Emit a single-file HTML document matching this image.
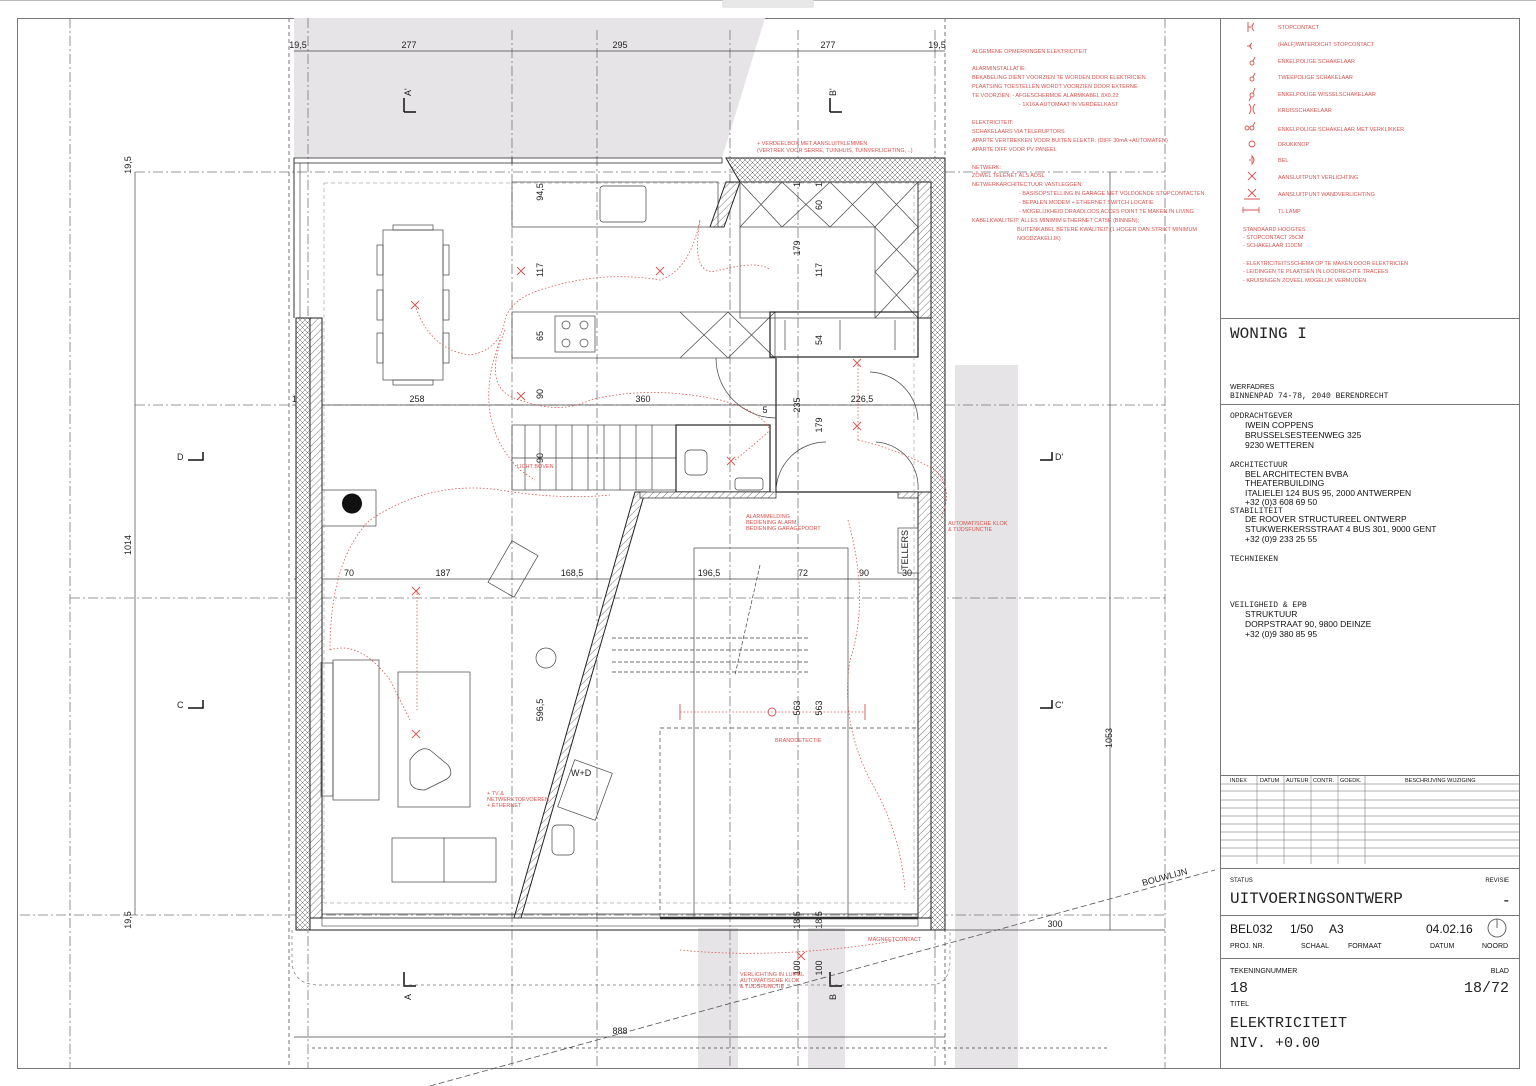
<!DOCTYPE html>
<html><head><meta charset="utf-8"><style>
html,body{margin:0;padding:0;background:#fff;}
svg{display:block;}
.d{font-family:"Liberation Sans",sans-serif;font-size:9px;fill:#222;}
.r{font-family:"Liberation Sans",sans-serif;font-size:5.5px;fill:#d9534f;}
.m{font-family:"Liberation Mono",monospace;fill:#222;}
.s{font-family:"Liberation Sans",sans-serif;fill:#111;}
</style></head><body>
<svg width="1536" height="1086" viewBox="0 0 1536 1086" xmlns="http://www.w3.org/2000/svg">
<defs>
<pattern id="h" width="5" height="5" patternUnits="userSpaceOnUse" patternTransform="rotate(45)">
<rect width="5" height="5" fill="#fff"/><line x1="0" y1="0" x2="0" y2="5" stroke="#555" stroke-width="0.8"/></pattern>
<pattern id="x" width="5" height="5" patternUnits="userSpaceOnUse">
<rect width="5" height="5" fill="#fff"/><path d="M0 0L5 5M5 0L0 5" stroke="#666" stroke-width="0.5"/></pattern>
</defs>
<line x1="0" y1="0.5" x2="1536" y2="0.5" stroke="#bbb"/>
<rect x="722" y="0" width="92" height="8" fill="#e8e8e8" rx="2"/>
<!-- frame -->
<rect x="17.5" y="18.5" width="1502" height="1050" fill="none" stroke="#777"/>
<!-- gray areas -->
<path d="M294 18 L765 18 L722 158 L294 158 Z" fill="#e6e4e6"/>
<rect x="955" y="365" width="63" height="703" fill="#e6e4e6"/>
<rect x="698" y="928" width="40" height="140" fill="#e6e4e6"/>
<rect x="808" y="928" width="37" height="140" fill="#e6e4e6"/>
<!-- axis dash-dot lines -->
<g stroke="#777" stroke-width="0.8" stroke-dasharray="10 3 2 3" fill="none">
<line x1="70" y1="18" x2="70" y2="1068"/>
<line x1="1165" y1="18" x2="1165" y2="1068"/>
<line x1="135" y1="172" x2="1165" y2="172"/>
<line x1="135" y1="405" x2="1165" y2="405"/>
<line x1="70" y1="598" x2="1165" y2="598"/>
<line x1="20" y1="915" x2="1165" y2="915"/>
<line x1="308" y1="18" x2="308" y2="1068"/>
<line x1="512" y1="30" x2="512" y2="1068"/>
<line x1="597" y1="30" x2="597" y2="1068"/>
<line x1="730" y1="30" x2="730" y2="1068"/>
<line x1="798" y1="30" x2="798" y2="1068"/>
<line x1="935" y1="30" x2="935" y2="1068"/>
</g>
<line x1="289" y1="18" x2="289" y2="1068" stroke="#777" stroke-dasharray="4 3"/>
<line x1="945" y1="18" x2="945" y2="1068" stroke="#777" stroke-dasharray="4 3"/>
<!-- dimension lines -->
<g stroke="#444" stroke-width="0.7">
<line x1="294" y1="51" x2="945" y2="51"/>
<line x1="294" y1="405" x2="945" y2="405"/>
<line x1="294" y1="579" x2="945" y2="579"/>
<line x1="294" y1="1037" x2="945" y2="1037"/>
<line x1="945" y1="930" x2="1165" y2="930"/>
<line x1="135" y1="172" x2="135" y2="915"/>
<line x1="1110" y1="172" x2="1110" y2="930"/>
<line x1="312" y1="1048" x2="1110" y2="1048" stroke-dasharray="3 3"/>
</g>
<g class="d" text-anchor="middle">
<text x="298" y="48">19,5</text><text x="409" y="48">277</text><text x="620" y="48">295</text><text x="828" y="48">277</text><text x="937" y="48">19,5</text>
<text x="307" y="402">19,5 19</text><text x="417" y="402">258</text><text x="643" y="402">360</text><text x="765" y="413">5</text><text x="862" y="402">226,5</text>
<text x="307" y="576">39,5</text><text x="349" y="576">70</text><text x="443" y="576">187</text><text x="572" y="576">168,5</text><text x="709" y="576">196,5</text><text x="803" y="576">72</text><text x="864" y="576">90</text><text x="907" y="576">30</text><text x="932" y="576">34,5</text>
<text x="620" y="1034">888</text><text x="1055" y="927">300</text>
</g>
<g class="d" text-anchor="middle">
<text transform="translate(131,165) rotate(-90)">19,5</text>
<text transform="translate(131,545) rotate(-90)">1014</text>
<text transform="translate(131,920) rotate(-90)">19,5</text>
<text transform="translate(1112,738) rotate(-90)">1053</text>
<text transform="translate(543,192) rotate(-90)">94,5</text>
<text transform="translate(543,270) rotate(-90)">117</text>
<text transform="translate(543,336) rotate(-90)">65</text>
<text transform="translate(543,394) rotate(-90)">90</text>
<text transform="translate(543,458) rotate(-90)">90</text>
<text transform="translate(543,710) rotate(-90)">596,5</text>
<text transform="translate(800,248) rotate(-90)">179</text>
<text transform="translate(822,270) rotate(-90)">117</text>
<text transform="translate(822,205) rotate(-90)">60</text>
<text transform="translate(822,340) rotate(-90)">54</text>
<text transform="translate(800,405) rotate(-90)">235</text>
<text transform="translate(822,425) rotate(-90)">179</text>
<text transform="translate(800,708) rotate(-90)">563</text>
<text transform="translate(822,708) rotate(-90)">563</text>
<text transform="translate(800,968) rotate(-90)">100</text>
<text transform="translate(822,968) rotate(-90)">100</text>
<text transform="translate(800,920) rotate(-90)">18,5</text>
<text transform="translate(822,920) rotate(-90)">18,5</text>
<text transform="translate(800,172) rotate(-90)">14 19,5</text>
<text transform="translate(822,172) rotate(-90)">14 19,5</text>
</g>
<!-- section markers -->
<g class="d" font-size="10">
<path d="M404 112 V98 M404 112 H416" stroke="#111" stroke-width="1.5" fill="none"/><text transform="translate(411,96) rotate(-90)">A'</text>
<path d="M830 112 V98 M830 112 H842" stroke="#111" stroke-width="1.5" fill="none"/><text transform="translate(836,96) rotate(-90)">B'</text>
<path d="M188 460 H203 V452" stroke="#111" stroke-width="1.5" fill="none"/><text x="177" y="460">D</text>
<path d="M1040 460 H1052 V452" stroke="#111" stroke-width="1.5" fill="none"/><text x="1055" y="460">D'</text>
<path d="M188 708 H203 V700" stroke="#111" stroke-width="1.5" fill="none"/><text x="177" y="708">C</text>
<path d="M1040 708 H1052 V700" stroke="#111" stroke-width="1.5" fill="none"/><text x="1055" y="708">C'</text>
<path d="M404 972 V986 H416" stroke="#111" stroke-width="1.5" fill="none"/><text transform="translate(411,1000) rotate(-90)">A</text>
<path d="M830 972 V986 H842" stroke="#111" stroke-width="1.5" fill="none"/><text transform="translate(836,1000) rotate(-90)">B</text>
</g>
<!-- bouwlijn -->
<line x1="430" y1="1086" x2="1215" y2="870" stroke="#555" stroke-width="0.8" stroke-dasharray="6 3"/>
<text class="d" font-size="11" transform="translate(1143,886) rotate(-15)">BOUWLIJN</text>
<path d="M292 930 V960 Q292 985 320 985 H930 Q950 985 950 960 V930" fill="none" stroke="#777" stroke-dasharray="3 3" stroke-width="0.7"/>
<!-- building -->
<rect x="294" y="158" width="218" height="5" fill="none" stroke="#333" stroke-width="0.8"/>
<line x1="294" y1="158" x2="294" y2="318" stroke="#333"/>
<line x1="300" y1="163" x2="300" y2="318" stroke="#333" stroke-width="0.6"/>
<rect x="512" y="158" width="210" height="5" fill="none" stroke="#333" stroke-width="0.8"/>
<rect x="296" y="318" width="14" height="612" fill="url(#x)" stroke="#222"/>
<rect x="310" y="318" width="12" height="600" fill="url(#h)" stroke="#222"/>
<path d="M726 158 H945 V930 H931 V182 H740 Z" fill="url(#x)" stroke="#222"/>
<rect x="918" y="182" width="13" height="136" fill="url(#h)" stroke="#222"/>
<rect x="918" y="492" width="13" height="426" fill="url(#h)" stroke="#222"/>
<path d="M726 182 L740 182 L724 227 L710 227 Z" fill="url(#h)" stroke="#222"/>
<path d="M635 492 L645 492 L521 918 L514 918 Z" fill="url(#h)" stroke="#222"/>
<rect x="322" y="914" width="596" height="4" fill="none" stroke="#333" stroke-width="0.7"/>
<line x1="660" y1="918" x2="918" y2="918" stroke="#222" stroke-width="2.5"/>
<line x1="296" y1="930" x2="945" y2="930" stroke="#222" stroke-width="1"/>
<rect x="322" y="918" width="596" height="8" fill="none" stroke="#444" stroke-width="0.6"/>
<!-- kitchen -->
<g fill="none" stroke="#444" stroke-width="0.7">
<rect x="512" y="182" width="206" height="45"/>
<rect x="600" y="186" width="46" height="36" rx="3"/>
<rect x="740" y="182" width="178" height="136"/>
<path d="M740 182 L782 227 M782 182 L740 227 M782 182 L830 227 M830 182 L782 227 M830 182 L875 227 M875 182 L830 227 M875 182 L918 227 M918 182 L875 227 M875 227 L918 272 M918 227 L875 272 M875 272 L918 318 M918 272 L875 318"/>
<line x1="740" y1="227" x2="875" y2="227"/><line x1="875" y1="227" x2="875" y2="318"/>
<rect x="512" y="312" width="263" height="46"/>
<path d="M680 312 L728 358 M728 312 L680 358 M728 312 L775 358 M775 312 L728 358"/>
<rect x="555" y="316" width="40" height="36"/>
<circle cx="566" cy="325" r="4"/><circle cx="584" cy="325" r="4"/><circle cx="566" cy="343" r="4"/><circle cx="584" cy="343" r="4"/>
<rect x="770" y="312" width="148" height="45" stroke="#222" stroke-width="1.2"/>
<path d="M785 320 V350 M840 320 V350 M895 320 V350"/>
<!-- stair -->
<rect x="512" y="425" width="164" height="65"/>
<path d="M525 425 V490 M540 425 V490 M556 425 V490 M572 425 V490 M588 425 V490 M604 425 V490 M620 425 V490 M636 425 V490 M652 425 V490 M512 458 H676"/>
<rect x="676" y="425" width="94" height="67" stroke="#222" stroke-width="1.2"/>
<rect x="685" y="450" width="22" height="25" rx="5"/>
<rect x="735" y="478" width="28" height="12" rx="3"/>
<path d="M776 358 V492 M776 492 H918" stroke="#222" stroke-width="1.2"/>
<rect x="640" y="492" width="136" height="6" fill="url(#h)" stroke="#222"/>
<rect x="898" y="492" width="20" height="6" fill="url(#h)" stroke="#222"/>
<path d="M716 358 A60 60 0 0 0 776 418"/>
<path d="M870 372 A50 50 0 0 1 918 420"/>
<path d="M776 492 A50 50 0 0 1 826 442 M876 442 A45 45 0 0 1 918 490"/>
<!-- dining -->
<rect x="383" y="230" width="60" height="150"/>
<rect x="393" y="225" width="40" height="5"/><rect x="393" y="380" width="40" height="5"/>
<rect x="377" y="245" width="6" height="30"/><rect x="377" y="290" width="6" height="30"/><rect x="377" y="333" width="6" height="30"/>
<rect x="443" y="245" width="6" height="30"/><rect x="443" y="290" width="6" height="30"/><rect x="443" y="333" width="6" height="30"/>
<!-- living -->
<rect x="322" y="490" width="54" height="36"/>
<rect x="333" y="660" width="46" height="140"/><rect x="321" y="663" width="12" height="133"/>
<rect x="398" y="672" width="72" height="135"/>
<path d="M410 760 Q420 745 430 750 L448 765 Q455 775 445 780 L425 790 Q410 790 410 780 Z"/>
<rect x="392" y="838" width="104" height="44"/><path d="M444 838 V882"/>
<rect x="498" y="545" width="30" height="48" transform="rotate(30 513 569)"/>
<circle cx="546" cy="658" r="10"/>
<rect x="565" y="765" width="40" height="50" transform="rotate(20 585 790)"/>
<rect x="552" y="825" width="22" height="30" rx="5"/>
<!-- garage -->
<rect x="694" y="548" width="154" height="370"/>
<rect x="660" y="728" width="258" height="190" stroke-dasharray="4 3"/>
<path d="M612 638 H810 M612 650 H810 M612 662 H810 M612 672 H810" stroke-dasharray="4 2"/>
<path d="M760 565 L735 675" stroke-dasharray="4 2"/>
<rect x="898" y="528" width="20" height="45"/>
<rect x="324" y="183" width="590" height="720" stroke-dasharray="4 3" stroke="#888" stroke-width="0.5"/>
</g>
<text class="d" font-size="7" transform="translate(908,570) rotate(-90)">TELLERS</text>
<text class="d" x="571" y="776">W+D</text>
<path d="M342 503 A10 10 0 1 1 342 504 Z" fill="#111"/>
<!-- red electrical -->
<g fill="none" stroke="#d9534f" stroke-width="0.8" stroke-dasharray="1.5 2">
<path d="M415 305 Q430 350 470 355 Q500 350 505 320 Q510 300 540 290 Q600 270 660 280 Q690 270 700 220"/>
<path d="M700 220 Q690 280 720 270 Q760 260 770 270"/>
<path d="M505 330 Q480 390 520 400 Q560 415 590 400 Q650 385 720 400 Q760 410 770 430"/>
<path d="M500 340 Q470 420 520 470 L535 480"/>
<path d="M330 650 Q330 560 370 520 Q430 480 500 490 Q560 500 610 495"/>
<path d="M330 650 Q360 640 390 680 Q400 700 410 720"/>
<path d="M417 590 V710"/>
<path d="M680 712 H865"/>
<path d="M858 365 V440 M858 440 Q900 450 935 470 Q955 490 940 520"/>
<path d="M848 520 Q870 600 850 660 Q840 720 870 780 Q900 830 905 890"/>
<path d="M735 460 Q760 440 770 430"/>
<path d="M680 950 Q780 960 900 940"/>
</g>
<g stroke="#d9534f" stroke-width="0.9" fill="none">
<path d="M411 301 l8 8 m0 -8 l-8 8 M412 587 l8 8 m0 -8 l-8 8 M412 730 l8 8 m0 -8 l-8 8 M517 267 l8 8 m0 -8 l-8 8 M517 392 l8 8 m0 -8 l-8 8 M656 267 l8 8 m0 -8 l-8 8 M853 359 l8 8 m0 -8 l-8 8 M853 422 l8 8 m0 -8 l-8 8 M727 457 l8 8 m0 -8 l-8 8 M797 952 l8 8 m0 -8 l-8 8"/>
<path d="M680 704 v16 M865 704 v16"/><circle cx="772" cy="712" r="4"/>
</g>
<g class="r">
<text x="757" y="145">+ VERDEELBOX MET AANSLUITKLEMMEN</text>
<text x="757" y="152">(VERTREK VOOR SERRE, TUINHUIS, TUINVERLICHTING, ..)</text>
<text x="746" y="518">ALARMMELDING</text><text x="746" y="524">BEDIENING ALARM</text><text x="746" y="530">BEDIENING GARAGEPOORT</text>
<text x="948" y="525">AUTOMATISCHE KLOK</text><text x="948" y="531">&amp; TIJDSFUNCTIE</text>
<text x="775" y="742">BRANDDETECTIE</text>
<text x="487" y="795">+ TV &amp;</text><text x="487" y="801">NETWERKTOEVOEREN</text><text x="487" y="807">+ ETHERNET</text>
<text x="740" y="976">VERLICHTING IN LUIFEL</text><text x="740" y="982">AUTOMATISCHE KLOK</text><text x="740" y="988">&amp; TIJDSFUNCTIE</text>
<text x="868" y="941">MAGNEETCONTACT</text>
<text x="517" y="468">LICHT BOVEN</text>
</g>
<!-- notes -->
<g class="r" font-size="5.5">
<text x="972" y="53">ALGEMENE OPMERKINGEN ELEKTRICITEIT</text>
<text x="972" y="70">ALARMINSTALLATIE:</text>
<text x="972" y="79">BEKABELING DIENT VOORZIEN TE WORDEN DOOR ELEKTRICIEN</text>
<text x="972" y="88">PLAATSING TOESTELLEN WORDT VOORZIEN DOOR EXTERNE</text>
<text x="972" y="97">TE VOORZIEN:    - AFGESCHERMDE ALARMKABEL 8X0.22</text>
<text x="1019" y="106">- 1X16A AUTOMAAT IN VERDEELKAST</text>
<text x="972" y="124">ELEKTRICITEIT:</text>
<text x="972" y="133">SCHAKELAARS VIA TELERUPTORS</text>
<text x="972" y="142">APARTE VERTREKKEN VOOR BUITEN ELEKTR. (DIFF 30mA +AUTOMATEN)</text>
<text x="972" y="151">APARTE DIFF VOOR PV PANEEL</text>
<text x="972" y="169">NETWERK:</text>
<text x="972" y="177">ZOWEL TELENET ALS ADSL</text>
<text x="972" y="186">NETWERKARCHITECTUUR VASTLEGGEN:</text>
<text x="1019" y="195">- BASISOPSTELLING IN GARAGE MET VOLDOENDE STOPCONTACTEN</text>
<text x="1019" y="204">- BEPALEN MODEM + ETHERNET SWITCH LOCATIE</text>
<text x="1019" y="213">- MOGELIJKHEID DRAADLOOS ACCES POINT TE MAKEN IN LIVING</text>
<text x="972" y="222">KABELKWALITEIT: ALLES MINIMIM ETHERNET CAT5E (BINNEN);</text>
<text x="1017" y="231">BUITENKABEL BETERE KWALITEIT (1 HOGER DAN STRIKT MINIMUM</text>
<text x="1017" y="240">NOODZAKELIJK)</text>
</g>
<!-- title block -->
<g stroke="#777" fill="none" stroke-width="1">
<rect x="1220.5" y="18.5" width="299" height="1050"/>
<line x1="1220" y1="318.5" x2="1519" y2="318.5"/>
<line x1="1220" y1="404.5" x2="1519" y2="404.5"/>
<line x1="1220" y1="775.5" x2="1519" y2="775.5"/>
<line x1="1220" y1="868.5" x2="1519" y2="868.5"/>
<line x1="1220" y1="915.5" x2="1519" y2="915.5"/>
<line x1="1220" y1="958.5" x2="1519" y2="958.5"/>
</g>
<g stroke="#666" stroke-width="0.5">
<line x1="1220" y1="784" x2="1519" y2="784"/><line x1="1220" y1="791" x2="1519" y2="791"/>
<line x1="1220" y1="800" x2="1519" y2="800"/><line x1="1220" y1="808" x2="1519" y2="808"/>
<line x1="1220" y1="816" x2="1519" y2="816"/><line x1="1220" y1="824" x2="1519" y2="824"/>
<line x1="1220" y1="832" x2="1519" y2="832"/><line x1="1220" y1="840" x2="1519" y2="840"/>
<line x1="1220" y1="848" x2="1519" y2="848"/><line x1="1220" y1="856" x2="1519" y2="856"/>
<line x1="1257" y1="775" x2="1257" y2="864"/><line x1="1284" y1="775" x2="1284" y2="864"/>
<line x1="1311" y1="775" x2="1311" y2="864"/><line x1="1338" y1="775" x2="1338" y2="864"/>
<line x1="1365" y1="775" x2="1365" y2="864"/>
</g>
<g class="s" font-size="5.5">
<text x="1230" y="782">INDEX</text><text x="1260" y="782">DATUM</text><text x="1286" y="782">AUTEUR</text><text x="1313" y="782">CONTR.</text><text x="1340" y="782">GOEDK.</text><text x="1405" y="782">BESCHRIJVING WIJZIGING</text>
</g>
<!-- legend -->
<g class="r">
<text x="1278" y="29">STOPCONTACT</text>
<text x="1278" y="46">(HALF)WATERDICHT STOPCONTACT</text>
<text x="1278" y="63">ENKELPOLIGE SCHAKELAAR</text>
<text x="1278" y="79">TWEEPOLIGE SCHAKELAAR</text>
<text x="1278" y="96">ENKELPOLIGE WISSELSCHAKELAAR</text>
<text x="1278" y="112">KRUISSCHAKELAAR</text>
<text x="1278" y="131">ENKELPOLIGE SCHAKELAAR MET VERKLIKKER</text>
<text x="1278" y="146">DRUKKNOP</text>
<text x="1278" y="162">BEL</text>
<text x="1278" y="179">AANSLUITPUNT VERLICHTING</text>
<text x="1278" y="196">AANSLUITPUNT WANDVERLICHTING</text>
<text x="1278" y="213">TL LAMP</text>
<text x="1243" y="231">STANDAARD HOOGTES</text>
<text x="1243" y="239">- STOPCONTACT    25CM</text>
<text x="1243" y="247">- SCHAKELAAR    110CM</text>
<text x="1243" y="265">- ELEKTRICITEITSSCHEMA OP TE MAKEN DOOR ELEKTRICIEN</text>
<text x="1243" y="273">- LEIDINGEN TE PLAATSEN IN LOODRECHTE TRACEES</text>
<text x="1243" y="282">- KRUISINGEN ZOVEEL MOGELIJK VERMIJDEN</text>
</g>
<g stroke="#d9534f" fill="none" stroke-width="0.9">
<path d="M1248 22 v10 M1248 27 h3 M1254 23 q-4 4 0 8"/>
<path d="M1252 43 q-4 3 0 6 M1247 46 h4"/>
<circle cx="1252" cy="63" r="2"/><path d="M1253 61 l2 -4"/>
<circle cx="1252" cy="79" r="2"/><path d="M1253 77 l2 -4"/>
<circle cx="1252" cy="95" r="2"/><path d="M1253 93 l2 -5 M1251 97 l-2 4"/>
<path d="M1249 104 q4 5 0 10 M1255 104 q-4 5 0 10"/>
<circle cx="1247" cy="128" r="2"/><circle cx="1252" cy="128" r="2"/><path d="M1253 126 l2 -4"/>
<circle cx="1252" cy="144" r="3"/>
<path d="M1249 160 h2 M1252 156 q4 4 0 8 z"/>
<path d="M1248 172 l8 8 m0 -8 l-8 8 M1248 189 l8 8 m0 -8 l-8 8 M1244 199 h16 M1243 210 h16 M1243 207 v6 M1259 207 v6"/>
</g>
<g class="m">
<text x="1230" y="338" font-size="16">WONING I</text>
<text x="1230" y="398" font-size="8">BINNENPAD 74-78, 2040 BERENDRECHT</text>
<text x="1230" y="418" font-size="8">OPDRACHTGEVER</text>
<text x="1230" y="467" font-size="8">ARCHITECTUUR</text>
<text x="1230" y="513" font-size="8">STABILITEIT</text>
<text x="1230" y="561" font-size="8">TECHNIEKEN</text>
<text x="1230" y="607" font-size="8">VEILIGHEID &amp; EPB</text>
<text x="1230" y="903" font-size="16">UITVOERINGSONTWERP</text>
<text x="1230" y="992" font-size="15">18</text>
<text x="1509" y="992" font-size="15" text-anchor="end">18/72</text>
<text x="1230" y="1027" font-size="15">ELEKTRICITEIT</text>
<text x="1230" y="1047" font-size="15">NIV. +0.00</text>
</g>
<g class="s" font-size="8.5">
<text x="1230" y="389" font-size="7">WERFADRES</text>
<text x="1245" y="428">IWEIN COPPENS</text><text x="1245" y="438">BRUSSELSESTEENWEG 325</text><text x="1245" y="448">9230 WETTEREN</text>
<text x="1245" y="477">BEL ARCHITECTEN BVBA</text><text x="1245" y="486">THEATERBUILDING</text><text x="1245" y="496">ITALIELEI 124 BUS 95, 2000 ANTWERPEN</text><text x="1245" y="505">+32 (0)3 608 69 50</text>
<text x="1245" y="522">DE ROOVER STRUCTUREEL ONTWERP</text><text x="1245" y="532">STUKWERKERSSTRAAT 4 BUS 301, 9000 GENT</text><text x="1245" y="542">+32 (0)9 233 25 55</text>
<text x="1245" y="617">STRUKTUUR</text><text x="1245" y="627">DORPSTRAAT 90, 9800 DEINZE</text><text x="1245" y="637">+32 (0)9 380 85 95</text>
<text x="1230" y="882" font-size="6">STATUS</text><text x="1509" y="882" font-size="6" text-anchor="end">REVISIE</text>
<text x="1509" y="905" font-size="16" text-anchor="end">-</text>
<text x="1230" y="933" font-size="12">BEL032</text><text x="1290" y="933" font-size="12">1/50</text><text x="1329" y="933" font-size="12">A3</text><text x="1426" y="933" font-size="12">04.02.16</text>
<text x="1230" y="948" font-size="7">PROJ. NR.</text><text x="1301" y="948" font-size="7">SCHAAL</text><text x="1348" y="948" font-size="7">FORMAAT</text><text x="1430" y="948" font-size="7">DATUM</text><text x="1482" y="948" font-size="7">NOORD</text>
<text x="1230" y="973" font-size="7">TEKENINGNUMMER</text><text x="1509" y="973" font-size="7" text-anchor="end">BLAD</text>
<text x="1230" y="1006" font-size="7">TITEL</text>
</g>
<circle cx="1497" cy="928" r="9" fill="none" stroke="#444" stroke-width="0.8"/><line x1="1497" y1="919" x2="1497" y2="928" stroke="#444" stroke-width="0.8"/>
</svg>
</body></html>
